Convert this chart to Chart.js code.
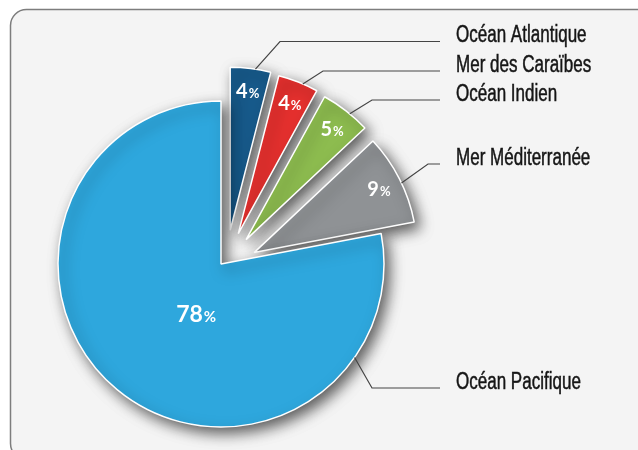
<!DOCTYPE html>
<html>
<head>
<meta charset="utf-8">
<script src="https://cdn.jsdelivr.net/npm/chart.js@4.4.1/dist/chart.umd.min.js"></script>
<style>
  html, body { margin: 0; padding: 0; background: #fff; }
  canvas { display: block; }
</style>
</head>
<body>
<canvas id="oceanChart" width="638" height="450"></canvas>
<script>
// Répartition par océan / mer (en %)
const labels = ['Océan Atlantique', 'Mer des Caraïbes', 'Océan Indien', 'Mer Méditerranée', 'Océan Pacifique'];
const percents = [4, 4, 5, 9, 78];
const colors = ['#175a8b', '#e5302e', '#8dbc4f', '#8f9295', '#2ea7dd'];

// callout layout (baseline of each label, x of the bend in its leader line)
const calloutY = [41.5, 71, 100, 164, 388];
const elbowX = [280, 323, 372, 428, 372];
const lineEndX = 440;
const textX = 456;

const EXPLODE = 35;                 // px the small slices are pulled out
const TILT = 8 * Math.PI / 180;     // pull direction is a bit clockwise of the bisector

function shiftOf(arc, i) {
  if (percents[i] > 50) return { dx: 0, dy: 0 };
  const a = (arc.startAngle + arc.endAngle) / 2 + TILT;
  return { dx: Math.cos(a) * EXPLODE, dy: Math.sin(a) * EXPLODE };
}

const backgroundPlugin = {
  id: 'panel',
  beforeDraw(chart) {
    const ctx = chart.ctx;
    ctx.save();
    ctx.fillStyle = '#ffffff';
    ctx.fillRect(0, 0, chart.width, chart.height);
    ctx.beginPath();
    ctx.roundRect(10.5, 9.5, 660, 450, 16);
    ctx.fillStyle = '#f4f4f4';
    ctx.fill();
    ctx.lineWidth = 1.5;
    ctx.strokeStyle = '#7d7d7d';
    ctx.stroke();
    ctx.restore();
  }
};

// draw slices ourselves so the small ones can be pulled out with a drop shadow
const explodePlugin = {
  id: 'explode',
  beforeDatasetDraw(chart, args) {
    const ctx = chart.ctx;
    const meta = args.meta;
    meta.data.forEach((arc, i) => {
      const s = shiftOf(arc, i);
      ctx.save();
      ctx.shadowColor = 'rgba(0,0,0,0.62)';
      ctx.shadowBlur = 14;
      ctx.shadowOffsetX = 5;
      ctx.shadowOffsetY = 6;
      ctx.translate(s.dx, s.dy);
      arc.draw(ctx, chart.chartArea);
      ctx.restore();
    });
    return false;
  }
};

function drawPercent(ctx, value, x, y, big) {
  const numFont = big ? 'bold 23px Lato' : 'bold 20px Lato';
  const pctFont = big ? 'bold 15px Lato' : 'bold 13px Lato';
  ctx.font = numFont;
  const w1 = ctx.measureText(String(value)).width;
  ctx.font = pctFont;
  const w2 = ctx.measureText('%').width;
  const left = x - (w1 + w2 + 1) / 2;
  const base = y + (big ? 8 : 7);
  ctx.fillStyle = '#ffffff';
  ctx.textAlign = 'left';
  ctx.textBaseline = 'alphabetic';
  ctx.font = numFont;
  ctx.fillText(String(value), left, base);
  ctx.font = pctFont;
  ctx.fillText('%', left + w1 + 1, base);
}

const labelPlugin = {
  id: 'callouts',
  afterDatasetsDraw(chart) {
    const ctx = chart.ctx;
    const meta = chart.getDatasetMeta(0);
    ctx.save();
    meta.data.forEach((arc, i) => {
      const s = shiftOf(arc, i);
      const R = arc.outerRadius;
      const big = percents[i] > 50;
      const span = arc.endAngle - arc.startAngle;

      // value inside the slice
      const la = big ? arc.startAngle + span * 0.454 : (arc.startAngle + arc.endAngle) / 2;
      const lr = big ? R * 0.34 : R * 0.86;
      drawPercent(ctx, percents[i], arc.x + s.dx + Math.cos(la) * lr, arc.y + s.dy + Math.sin(la) * lr, big);

      // leader line
      const aa = big ? arc.startAngle + span * 0.163 : (arc.startAngle + arc.endAngle) / 2 + 0.03;
      const ax = arc.x + s.dx + Math.cos(aa) * R;
      const ay = arc.y + s.dy + Math.sin(aa) * R;
      ctx.beginPath();
      ctx.moveTo(ax, ay);
      ctx.lineTo(elbowX[i], calloutY[i]);
      ctx.lineTo(lineEndX, calloutY[i]);
      ctx.lineWidth = 1.2;
      ctx.strokeStyle = '#444444';
      ctx.stroke();

      // label text, condensed
      ctx.save();
      ctx.translate(textX, calloutY[i] + 0.5);
      ctx.scale(0.74, 1);
      ctx.font = '23px "Liberation Sans", Arial, sans-serif';
      ctx.fillStyle = '#161616';
      ctx.strokeStyle = '#161616';
      ctx.lineWidth = 0.5;
      ctx.textAlign = 'left';
      ctx.textBaseline = 'alphabetic';
      ctx.fillText(labels[i], 0, 0);
      ctx.strokeText(labels[i], 0, 0);
      ctx.restore();
    });
    ctx.restore();
  }
};

const ctx = document.getElementById('oceanChart').getContext('2d');
new Chart(ctx, {
  type: 'pie',
  data: {
    labels: labels,
    datasets: [{
      data: percents,
      backgroundColor: colors,
      borderColor: '#ffffff',
      borderWidth: 1.5
    }]
  },
  options: {
    responsive: false,
    animation: false,
    events: [],
    radius: 163,
    layout: { padding: { left: 0, right: 196, top: 78, bottom: 0 } },
    plugins: {
      legend: { display: false },
      tooltip: { enabled: false }
    }
  },
  plugins: [backgroundPlugin, explodePlugin, labelPlugin]
});
</script>
</body>
</html>
